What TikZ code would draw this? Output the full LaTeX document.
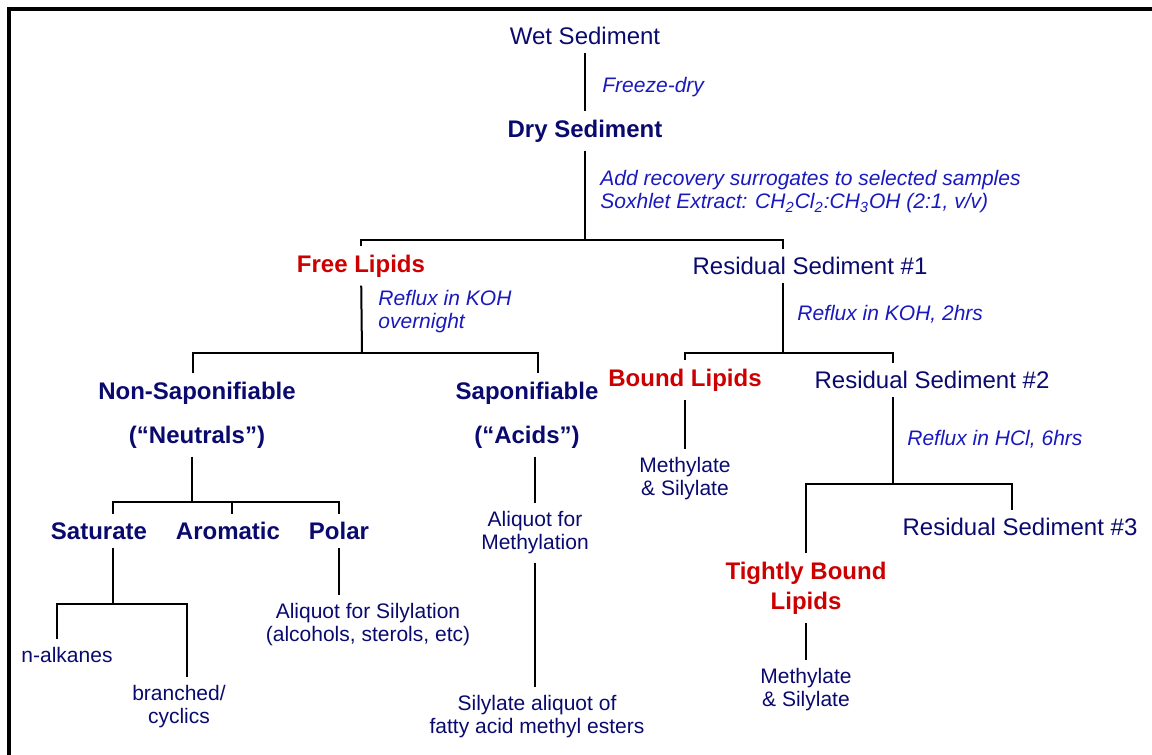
\documentclass[tikz,border=0pt]{standalone}
\usepackage{fontspec}
\setmainfont{Liberation Sans}
\usepackage{tikz}
\definecolor{navy}{RGB}{10,10,110}
\definecolor{noteblue}{RGB}{25,25,190}
\definecolor{lipidred}{RGB}{204,0,0}

\begin{document}
\begin{tikzpicture}[x=0.5pt,y=-0.5pt,
  every node/.style={inner xsep=2pt,inner ysep=4pt,align=center,text=navy,
    font=\fontsize{12}{14}\selectfont},
  heading/.style={font=\fontsize{12}{22}\selectfont\bfseries},
  lipid/.style={font=\fontsize{12}{15}\selectfont\bfseries,text=lipidred},
  small/.style={font=\fontsize{10.5}{11.5}\selectfont},
  note/.style={anchor=west,align=left,text=noteblue,
    font=\fontsize{10.5}{11.5}\selectfont\itshape},
  link/.style={draw=black,line width=1pt}]
  \useasboundingbox (0,0) rectangle (1152,755);
  \draw[line width=2pt] (9,755) -- (9,9) -- (1152,9);

  % extraction
  \node (wet) at (585,36) {Wet Sediment};
  \node[heading] (dry) at (585,131) {Dry Sediment};
  \draw[link] (wet) -- (dry);
  \node[note] (n1) at (598,87) {Freeze-dry};
  \coordinate (j1) at (585,240);
  \node[note] (n2) at (596,192) {Add recovery surrogates to selected samples\\
    Soxhlet Extract: CH\textsubscript{2}Cl\textsubscript{2}:CH\textsubscript{3}OH (2:1, v/v)};
  \node[lipid] (free) at (361,266) {Free Lipids};
  \node (res1) at (810,266) {Residual Sediment \#1};
  \draw[link] (dry) -- (j1);
  \draw[link] (free) |- (j1) -| ([xshift=-13.5pt]res1.north);

  % free lipids
  \coordinate (j2) at (362,353);
  \node[note] (n3) at (374,312) {Reflux in KOH\\overnight};
  \node[heading] (nonsap) at (197,415) {Non-Saponifiable\\(“Neutrals”)};
  \node[heading] (sap) at (527,415) {Saponifiable\\(“Acids”)};
  \draw[link] (free) -- (j2);
  \draw[link] ([xshift=-2pt]nonsap.north) |- (j2) -| ([xshift=5.5pt]sap.north);

  \coordinate (j3) at (192,502);
  \node[heading] (sat) at (99,531) {Saturate};
  \node[heading] (arom) at (228,531) {Aromatic};
  \node[heading] (polar) at (339,531) {Polar};
  \draw[link] ([xshift=-2.5pt]nonsap.south) -- (j3);
  \draw[link] ([xshift=7pt]sat.north) |- (j3) -| (polar);
  \draw[link] (j3) -| ([xshift=2pt]arom.north);

  \coordinate (j4) at (113,604);
  \node[small] (alk) at (67,655) {n-alkanes};
  \node[small] (branch) at (179,707) {branched/\\cyclics};
  \draw[link] ([xshift=7pt]sat.south) -- (j4);
  \draw[link] ([xshift=-5pt]alk.north) |- (j4) -| ([xshift=4pt]branch.north);

  \node[small] (silyl) at (368,625) {Aliquot for Silylation\\(alcohols, sterols, etc)};
  \draw[link] (polar) -- (polar |- silyl.north);

  \node[small] (methyl) at (535,533) {Aliquot for\\Methylation};
  \node[small] (fame) at (537,717) {Silylate aliquot of\\fatty acid methyl esters};
  \draw[link] ([xshift=4pt]sap.south) -- (methyl.north);
  \draw[link] (methyl) -- (methyl |- fame.north);

  % residual sediment
  \coordinate (j5) at (783,353);
  \node[note] (n4) at (793,314) {Reflux in KOH, 2hrs};
  \node[lipid] (bound) at (685,380) {Bound Lipids};
  \node (res2) at (932,380) {Residual Sediment \#2};
  \draw[link] ([xshift=-13.5pt]res1.south) -- (j5);
  \draw[link] (bound) |- (j5) -| ([xshift=-19.5pt]res2.north);

  \node[small] (ms1) at (685,479) {Methylate\\\& Silylate};
  \draw[link] (bound) -- (ms1);

  \coordinate (j6) at (893,484);
  \node[note] (n5) at (903,439) {Reflux in HCl, 6hrs};
  \node (res3) at (1020,527) {Residual Sediment \#3};
  \node[lipid] (tight) at (806,588) {Tightly Bound\\Lipids};
  \draw[link] ([xshift=-19.5pt]res2.south) -- (j6);
  \draw[link] (tight) |- (j6) -| ([xshift=-4pt]res3.north);

  \node[small] (ms2) at (806,690) {Methylate\\\& Silylate};
  \draw[link] (tight) -- (ms2);
\end{tikzpicture}
\end{document}
